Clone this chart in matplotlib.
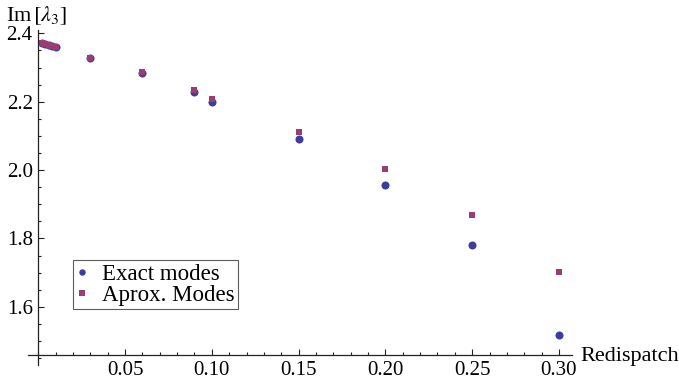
import matplotlib
matplotlib.use("Agg")
import matplotlib.pyplot as plt
from matplotlib.ticker import MultipleLocator, FixedLocator

redispatch = [0.002, 0.004, 0.006, 0.008, 0.010, 0.03, 0.06, 0.09, 0.10, 0.15, 0.20, 0.25, 0.30]
exact_modes = [2.371, 2.368, 2.365, 2.362, 2.359, 2.327, 2.283, 2.228, 2.200, 2.090, 1.955, 1.780, 1.517]
aprox_modes = [2.371, 2.368, 2.365, 2.362, 2.359, 2.328, 2.287, 2.233, 2.208, 2.110, 2.002, 1.870, 1.701]
x_ticks = [0.05, 0.10, 0.15, 0.20, 0.25, 0.30]
x_tick_labels = ["0.05", "0.10", "0.15", "0.20", "0.25", "0.30"]
y_ticks = [1.6, 1.8, 2.0, 2.2, 2.4]
y_tick_labels = ["1.6", "1.8", "2.0", "2.2", "2.4"]

plt.rcParams['font.family'] = ['Liberation Serif', 'DejaVu Serif']
plt.rcParams['mathtext.fontset'] = 'stix'

W, H = 679, 381
fig = plt.figure(figsize=(W / 100, H / 100), dpi=100)
left_px, right_px, top_px, bottom_px = 28, 572, 30, 365
ax = fig.add_axes([left_px / W, 1 - bottom_px / H, (right_px - left_px) / W, (bottom_px - top_px) / H])

blue = '#3d3d9e'
purple = '#9b3d72'
ax.plot(redispatch, exact_modes, 'o', color=blue, markersize=5.8, markeredgewidth=0, label='Exact modes')
ax.plot(redispatch, aprox_modes, 's', color=purple, markersize=4.9, markeredgewidth=0, label='Aprox. Modes')

ax.set_xlim(-0.0059, 0.3075)
ax.set_ylim(1.430, 2.4097)
for s in ['top', 'right']:
    ax.spines[s].set_visible(False)
ax.spines['left'].set_position(('data', 0.0))
ax.spines['bottom'].set_position(('data', 1.4594))
for s in ['left', 'bottom']:
    ax.spines[s].set_linewidth(0.9)
    ax.spines[s].set_color('#222222')

ax.xaxis.set_major_locator(FixedLocator(x_ticks))
ax.set_xticklabels(x_tick_labels)
ax.xaxis.set_minor_locator(MultipleLocator(0.01))
ax.yaxis.set_major_locator(FixedLocator(y_ticks))
ax.set_yticklabels(y_tick_labels)
ax.yaxis.set_minor_locator(MultipleLocator(0.05))
ax.tick_params(which='both', direction='in', color='#222222', width=0.8)
ax.tick_params(which='major', length=4.2, labelsize=15)
ax.tick_params(which='minor', length=2.4)
ax.tick_params(axis='x', pad=4)
ax.tick_params(axis='y', pad=4)

fig.text(6 / W, 1 - 16 / H, r"Im$\,[\lambda_3]$", fontsize=16, ha='left', va='center')
fig.text(580 / W, 1 - 356 / H, "Redispatch", fontsize=16, ha='left', va='center')

leg = ax.legend(loc='lower left', bbox_to_anchor=((73 - left_px) / (right_px - left_px), (bottom_px - 309) / (bottom_px - top_px)),
                frameon=True, fancybox=False, fontsize=16.5, handlelength=0.5, handletextpad=0.6,
                borderpad=0.15, labelspacing=0.0, borderaxespad=0, markerscale=0.8)
leg.get_frame().set_edgecolor('#333333')
leg.get_frame().set_linewidth(0.8)

fig.savefig('out.png', dpi=100)
